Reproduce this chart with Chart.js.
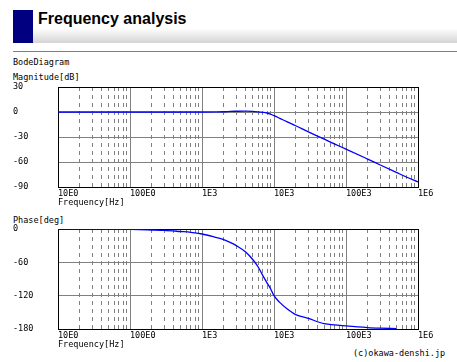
<!DOCTYPE html>
<html>
<head>
<meta charset="utf-8">
<title>Frequency analysis</title>
<script src="https://cdn.jsdelivr.net/npm/chart.js@4/dist/chart.umd.min.js"></script>
<style>
  body { margin: 0; width: 457px; height: 362px; background: #fff; position: relative; overflow: hidden; }
  .abs { position: absolute; }
  .lbl { font: 8.5px "DejaVu Sans Mono", monospace; line-height: 10px; color: #000; white-space: nowrap; }
  #headBlock { left: 13px; top: 10px; width: 20px; height: 33px; background: #000080; }
  #headBar { left: 33px; top: 10px; right: 0; height: 33px;
             background: linear-gradient(to bottom, #fff 0%, #fff 55%, #d4d4d4 100%); }
  #headText { left: 38px; top: 10px; line-height: 33px; font: bold 16px "Liberation Sans", Arial, sans-serif; }
  #headLine { left: 13px; top: 51px; right: 0; height: 1px; background: #808080; }
  canvas { position: absolute; left: 0; }
</style>
</head>
<body>
<div id="headBlock" class="abs"></div>
<div id="headBar" class="abs"></div>
<div id="headText" class="abs">Frequency analysis</div>
<div id="headLine" class="abs"></div>

<div class="abs lbl" style="left:13px; top:57px;">BodeDiagram</div>
<div class="abs lbl" style="left:13px; top:72px;">Magnitude[dB]</div>
<div class="abs lbl" style="left:13px; top:215px;">Phase[deg]</div>
<div class="abs lbl" style="left:353px; top:348px;">(c)okawa-denshi.jp</div>

<canvas id="magChart" width="457" height="140" style="top:70px;"></canvas>
<canvas id="phaseChart" width="457" height="140" style="top:212px;"></canvas>

<script>
// frequency points [Hz]
const freq = [10, 20, 50, 100, 200, 300, 500, 700, 1000, 1500, 2000, 2500, 3000, 4000,
  5000, 6000, 7000, 8000, 9000, 10000, 12000, 15000, 20000, 30000, 50000, 70000,
  100000, 200000, 300000, 500000, 700000, 1000000];

// gain [dB]
const magnitude = [0, 0, 0, 0, 0, 0, 0, 0, 0, 0.1, 0.3, 0.8, 0.9, 1.0,
  0.7, 0.2, -0.4, -1.2, -2.7, -4.4, -7.6, -11.6, -16.5, -23.8, -32.6, -38.5,
  -44.5, -56.5, -63.6, -72.5, -78.3, -84];

// phase [deg], the trace stops a bit before 1E6
const phase = [0, -0.1, -0.5, -0.8, -1.8, -2.5, -4.5, -6, -9, -14.5, -19, -24.5, -30, -41,
  -54, -68, -84, -97, -108, -120, -132, -143, -154, -161, -170.5, -172.5,
  -174.5, -177.5, -178.5, -179.3, null, null];

// x tick labels, one per decade
const decadeTicks = [10, 100, 1000, 10000, 100000, 1000000];
const decadeLabels = ["10E0", "100E0", "1E3", "10E3", "100E3", "1E6"];

const magTicks = [30, 0, -30, -60, -90];
const phaseTicks = [0, -60, -120, -180];

const labelFont = { family: "DejaVu Sans Mono", size: 8.5 };
const gridGray = "#808080";

function isDecade(v) {
  return decadeTicks.some(d => Math.abs(v - d) < d * 1e-6);
}

// black frame round the plot area, under the trace
const framePlugin = {
  id: "frame",
  beforeDatasetsDraw(chart) {
    const a = chart.chartArea;
    const ctx = chart.ctx;
    ctx.save();
    ctx.strokeStyle = "#000";
    ctx.lineWidth = 1;
    ctx.setLineDash([]);
    ctx.strokeRect(Math.round(a.left) + 0.5, Math.round(a.top) + 0.5,
      Math.round(a.right - a.left), Math.round(a.bottom - a.top));
    ctx.restore();
  }
};

function makeBode(canvasId, values, yTicks) {
  const points = freq.map((f, i) => ({ x: f, y: values[i] }));
  const yMin = Math.min(...yTicks);
  const yMax = Math.max(...yTicks);

  return new Chart(document.getElementById(canvasId), {
    type: "line",
    data: {
      datasets: [{
        data: points,
        borderColor: "#0000ff",
        borderWidth: 1.3,
        pointRadius: 0,
        cubicInterpolationMode: "monotone",
        spanGaps: false,
      }],
    },
    options: {
      responsive: false,
      animation: false,
      devicePixelRatio: 1,
      layout: { padding: { left: 13, right: 39, top: 17, bottom: 0 } },
      plugins: { legend: { display: false }, tooltip: { enabled: false } },
      scales: {
        x: {
          type: "logarithmic",
          min: 10,
          max: 1000000,
          afterBuildTicks(scale) {
            // 1..9 per decade, labels only on decades
            const ticks = [];
            decadeTicks.slice(0, -1).forEach(d => {
              for (let k = 1; k <= 9; k++) ticks.push({ value: k * d });
            });
            ticks.push({ value: 1000000 });
            scale.ticks = ticks;
          },
          afterFit(scale) { scale.height = 23; },
          ticks: {
            autoSkip: false,
            maxRotation: 0,
            align: "start",
            padding: 2,
            color: "#000",
            font: labelFont,
            callback(value) {
              const i = decadeTicks.findIndex(d => Math.abs(value - d) < d * 1e-6);
              return i >= 0 ? decadeLabels[i] : "";
            },
          },
          grid: { drawTicks: false, color: gridGray, lineWidth: 1 },
          border: {
            display: false,
            dash: ctx => (ctx.tick && !isDecade(ctx.tick.value)) ? [4, 4] : [],
          },
          title: {
            display: true,
            text: "Frequency[Hz]",
            align: "start",
            color: "#000",
            font: labelFont,
            padding: { top: 0, bottom: 2 },
          },
        },
        y: {
          min: yMin,
          max: yMax,
          afterBuildTicks(scale) {
            scale.ticks = yTicks.map(v => ({ value: v }));
          },
          afterFit(scale) { scale.width = 45; },
          ticks: {
            crossAlign: "far",
            padding: 0,
            color: "#000",
            font: labelFont,
            callback: value => String(value),
          },
          grid: { drawTicks: false, color: gridGray, lineWidth: 1 },
          border: { display: false },
        },
      },
    },
    plugins: [framePlugin],
  });
}

makeBode("magChart", magnitude, magTicks);
makeBode("phaseChart", phase, phaseTicks);
</script>
</body>
</html>
